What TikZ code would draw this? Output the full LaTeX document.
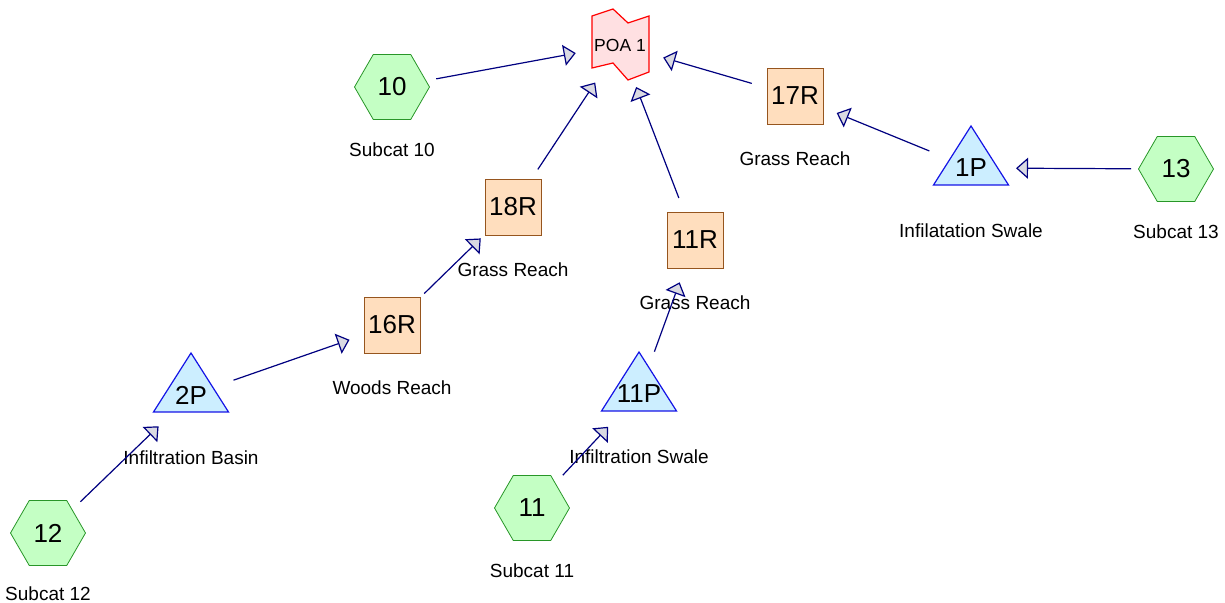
\documentclass[tikz,border=0pt]{standalone}
\usepackage{fontspec}
\setmainfont{Liberation Sans}
\usepackage{tikz}
\usetikzlibrary{arrows.meta,backgrounds,shapes.geometric}

\definecolor{flowline}{RGB}{0,0,128}
\definecolor{tipfill}{RGB}{218,218,226}
\definecolor{subcatfill}{RGB}{196,255,196}
\definecolor{subcatline}{RGB}{40,150,40}
\definecolor{pondfill}{RGB}{204,238,255}
\definecolor{pondline}{RGB}{20,20,230}
\definecolor{reachfill}{RGB}{255,222,190}
\definecolor{reachline}{RGB}{150,85,30}
\definecolor{poafill}{RGB}{255,224,226}
\definecolor{poaline}{RGB}{255,0,0}

\tikzset{
	subcat/.style = {regular polygon, regular polygon sides=6, minimum size=37.5pt,
		inner sep=0pt, draw=subcatline, fill=subcatfill, font=\fontsize{13}{15}\selectfont},
	reach/.style = {rectangle, minimum size=28pt, inner sep=0pt,
		draw=reachline, fill=reachfill, font=\fontsize{13}{15}\selectfont},
	pond/.style = {inner sep=0pt, font=\fontsize{13}{15}\selectfont},
	poanode/.style = {inner sep=0pt, font=\fontsize{8.75}{10}\selectfont},
	caption/.style = {inner sep=0pt, font=\fontsize{9.5}{11}\selectfont},
	flow/.style = {draw=flowline, line width=0.6pt, shorten <=22.5pt, shorten >=22.5pt,
		-{Triangle[length=6pt, width=10.5pt, fill=tipfill]}}
}

\begin{document}
\begin{tikzpicture}[x=0.5pt, y=-0.5pt, node distance=31.5pt]
    \useasboundingbox (0,0) rectangle (1225,603);
    % Nodes
    \node (poa) [poanode] at (620,45) {POA 1};
    \node (sc10) [subcat] at (392,87) {10};
    \node (sc11) [subcat] at (532,508) {11};
    \node (sc12) [subcat] at (48,533) {12};
    \node (sc13) [subcat] at (1176,169) {13};
    \node (p1) [pond] at (971,168) {1P};
    \node (p2) [pond] at (191,395) {2P};
    \node (p11) [pond] at (639,394) {11P};
    \node (r11) [reach] at (695,240) {11R};
    \node (r16) [reach] at (392,325) {16R};
    \node (r17) [reach] at (795,96) {17R};
    \node (r18) [reach] at (513,207) {18R};

    % Captions
    \node (sc10-cap) [caption, below of=sc10] {Subcat 10};
    \node (sc11-cap) [caption, below of=sc11] {Subcat 11};
    \node (sc12-cap) [caption, below of=sc12, node distance=30.5pt] {Subcat 12};
    \node (sc13-cap) [caption, below of=sc13] {Subcat 13};
    \node (p1-cap) [caption, below of=p1] {Infilatation Swale};
    \node (p2-cap) [caption, below of=p2] {Infiltration Basin};
    \node (p11-cap) [caption, below of=p11] {Infiltration Swale};
    \node (r11-cap) [caption, below of=r11] {Grass Reach};
    \node (r16-cap) [caption, below of=r16] {Woods Reach};
    \node (r17-cap) [caption, below of=r17] {Grass Reach};
    \node (r18-cap) [caption, below of=r18] {Grass Reach};

    % Outlines behind the pond and POA texts
    \begin{scope}[on background layer]
        \foreach \p in {p1, p2, p11}
            \draw [pondline, fill=pondfill, line width=0.6pt]
                ([shift={(-37.5,17)}]\p.center) -- ([shift={(0,-42)}]\p.center)
                -- ([shift={(37.5,17)}]\p.center) -- cycle;
        \draw [poaline, fill=poafill, line width=0.6pt, shift={(poa.center)}]
            (-28,-29) -- (-7,-36) -- (8,-22) -- (29,-29) -- (29,27)
            -- (8,35) -- (-7,18) -- (-28,23) -- cycle;
    \end{scope}

    % Arrows
    \draw [flow] (sc10.center) to (poa.center);
    \draw [flow] (r18.center) to (poa.center);
    \draw [flow] (r11.center) to (poa.center);
    \draw [flow] (r17.center) to (poa.center);
    \draw [flow] (p1.center) to (r17.center);
    \draw [flow] (sc13.center) to (p1.center);
    \draw [flow] (r16.center) to (r18.center);
    \draw [flow] (p2.center) to (r16.center);
    \draw [flow] (sc12.center) to (p2.center);
    \draw [flow] (sc11.center) to (p11.center);
    \draw [flow] (p11.center) to (r11.center);

\end{tikzpicture}
\end{document}
